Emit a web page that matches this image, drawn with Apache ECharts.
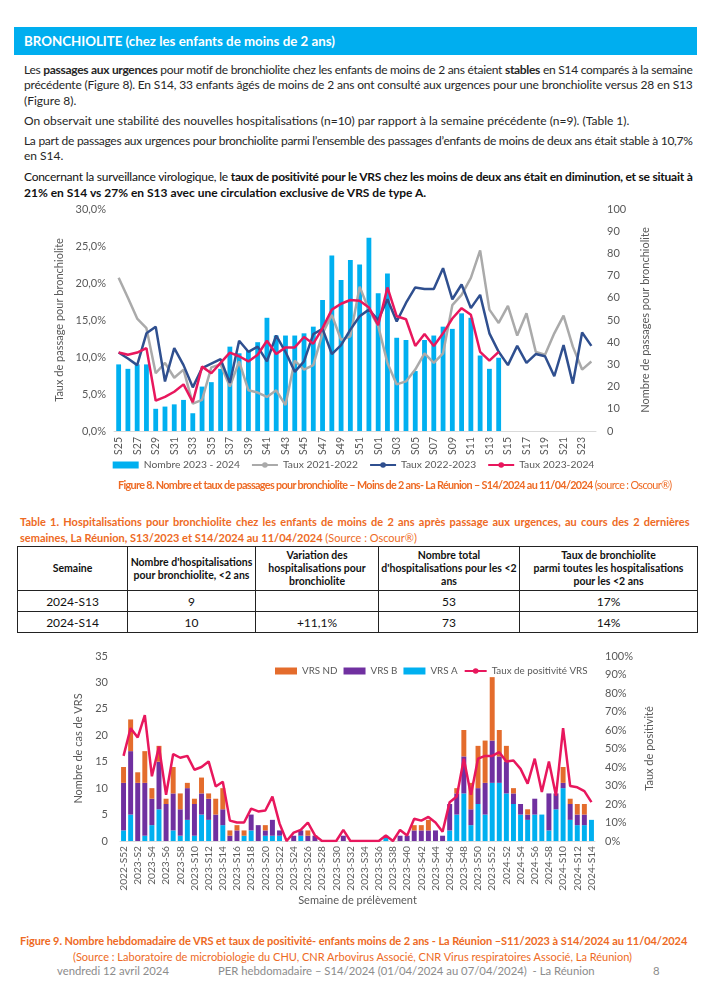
<!DOCTYPE html>
<html><head><meta charset="utf-8">
<script src="https://cdn.jsdelivr.net/npm/echarts@6/dist/echarts.min.js"></script>
<style>
html,body{margin:0;padding:0;background:#fff;}
body{width:707px;height:1000px;position:relative;overflow:hidden;font-family:"Lato",sans-serif;color:#262626;}
.ln{position:absolute;white-space:nowrap;font-size:12px;line-height:15px;}
.ln span{white-space:nowrap;}
b{font-weight:bold;}
.band{position:absolute;left:14px;top:27px;width:683px;height:28px;background:#00aeef;color:#fff;font-weight:bold;font-size:13.3px;line-height:28px;}
.band span{padding-left:10px;}
.orange{color:#ee6a24;}
table{position:absolute;left:17px;top:546px;width:680px;border-collapse:collapse;table-layout:fixed;font-family:"Lato",sans-serif;}
td{border:1px solid #222;text-align:center;vertical-align:middle;padding:0 2px;color:#111;}
tr.h td{height:43px;font-weight:bold;font-size:10.5px;line-height:13px;}
tr.r td{height:20px;font-size:12px;}
.foot{position:absolute;font-size:11.3px;color:#8c8c8c;white-space:nowrap;line-height:14px;}
#c8{position:absolute;left:0;top:200px;width:707px;height:280px;}
#c9{position:absolute;left:0;top:645px;width:707px;height:275px;}
</style></head>
<body>
<div class="band"><span>BRONCHIOLITE (chez les enfants de moins de 2 ans)</span></div>

<div class="ln j" style="left:24px;top:62px;width:669px"><span>Les <b>passages aux urgences</b> pour motif de bronchiolite chez les enfants de moins de 2 ans étaient <b>stables</b> en S14 comparés à la semaine</span></div>
<div class="ln j" style="left:24px;top:77px;width:669px"><span>précédente (Figure 8). En S14, 33 enfants âgés de moins de 2 ans ont consulté aux urgences pour une bronchiolite versus 28 en S13</span></div>
<div class="ln" style="left:24px;top:93px;width:669px"><span>(Figure 8).</span></div>
<div class="ln" style="left:24px;top:113px;width:669px"><span>On observait une stabilité des nouvelles hospitalisations (n=10) par rapport à la semaine précédente (n=9). (Table 1).</span></div>
<div class="ln j" style="left:24px;top:133px;width:669px"><span>La part de passages aux urgences pour bronchiolite parmi l’ensemble des passages d’enfants de moins de deux ans était stable à 10,7%</span></div>
<div class="ln" style="left:24px;top:148px;width:669px"><span>en S14.</span></div>
<div class="ln j" style="left:24px;top:169px;width:669px;color:#111"><span>Concernant la surveillance virologique, le <b>taux de positivité pour le VRS chez les moins de deux ans était en diminution, et se situait à</b></span></div>
<div class="ln" style="left:24px;top:185px;width:669px;color:#111"><span><b>21% en S14 vs 27% en S13 avec une circulation exclusive de VRS de type A.</b></span></div>

<div id="c8"></div>

<div class="ln orange" style="left:118px;top:477px;width:556px;font-size:10.8px"><span><b>Figure 8. Nombre et taux de passages pour bronchiolite – Moins de 2 ans- La Réunion – S14/2024 au 11/04/2024</b> (source : Oscour®)</span></div>

<div class="ln j orange" style="left:20px;top:514px;width:670px;font-size:11px"><span><b>Table 1. Hospitalisations pour bronchiolite chez les enfants de moins de 2 ans après passage aux urgences, au cours des 2 dernières</b></span></div>
<div class="ln orange" style="left:20px;top:530px;width:670px;font-size:11px"><span><b>semaines, La Réunion, S13/2023 et S14/2024 au 11/04/2024</b> (Source : Oscour®)</span></div>

<table>
<colgroup><col style="width:110px"><col style="width:128px"><col style="width:123px"><col style="width:141px"><col style="width:178px"></colgroup>
<tr class="h"><td>Semaine</td><td>Nombre d'hospitalisations pour bronchiolite, &lt;2 ans</td><td>Variation des hospitalisations pour bronchiolite</td><td>Nombre total d'hospitalisations pour les &lt;2 ans</td><td>Taux de bronchiolite<br>parmi toutes les hospitalisations<br>pour les &lt;2 ans</td></tr>
<tr class="r"><td>2024-S13</td><td>9</td><td></td><td>53</td><td>17%</td></tr>
<tr class="r"><td>2024-S14</td><td>10</td><td>+11,1%</td><td>73</td><td>14%</td></tr>
</table>

<div id="c9"></div>

<div class="ln orange" style="left:20px;top:933px;width:670px;font-size:11px"><span><b>Figure 9. Nombre hebdomadaire de VRS et taux de positivité- enfants moins de 2 ans - La Réunion –S11/2023 à S14/2024 au 11/04/2024</b></span></div>
<div class="ln orange" style="left:73px;top:949px;width:560px;font-size:11px"><span>(Source : Laboratoire de microbiologie du CHU, CNR Arbovirus Associé, CNR Virus respiratoires Associé, La Réunion)</span></div>

<div class="foot" style="left:57px;top:964px">vendredi 12 avril 2024</div>
<div class="foot" style="left:218px;top:964px">PER hebdomadaire – S14/2024 (01/04/2024 au 07/04/2024)&nbsp; - La Réunion</div>
<div class="foot" style="left:653px;top:964px">8</div>

<script>
// ---------- Figure 8 data ----------
const weeks8 = ['S25','S26','S27','S28','S29','S30','S31','S32','S33','S34','S35','S36','S37','S38','S39','S40','S41','S42','S43','S44','S45','S46','S47','S48','S49','S50','S51','S52','S01','S02','S03','S04','S05','S06','S07','S08','S09','S10','S11','S12','S13','S14','S15','S16','S17','S18','S19','S20','S21','S22','S23','S24'];
const nombre2324 = [30,28,30,30,10,11,12,14,8,20,22,28,38,35,36,40,51,43,43,43,44,47,59,79,68,77,75,87,62,71,42,41,27,41,43,47,46,53,51,34,28,33,null,null,null,null,null,null,null,null,null,null];
const taux2122 = [20.7,18.0,15.2,13.9,7.8,9.2,7.2,8.3,3.7,4.2,8.6,9.0,6.0,9.4,5.5,5.2,4.6,5.5,3.5,9.5,8.3,8.9,13.2,15.7,12.3,12.8,19.5,16.4,14.2,9.2,6.3,6.7,8.3,10.5,9.2,10.5,17.0,18.4,20.7,24.4,16.4,14.6,16.9,12.9,15.9,10.7,10.3,13.2,15.6,11.4,8.3,9.4];
const taux2223 = [10.6,9.8,8.9,13.2,14.1,6.7,11.2,8.9,5.9,8.5,9.1,9.7,6.5,12.2,10.7,11.4,9.4,12.9,10.7,8.0,9.4,13.1,13.8,10.4,11.6,13.7,15.5,16.4,15.0,17.8,14.8,17.3,19.4,19.2,19.2,22.0,17.8,19.8,16.6,18.4,13.2,10.7,8.9,11.5,9.2,10.4,10.1,7.4,11.6,6.4,13.3,11.5];
const taux2324 = [10.6,10.3,10.6,11.2,4.1,4.6,5.3,6.3,3.9,8.7,7.8,9.2,10.6,10.1,9.4,10.3,12.2,10.4,11.3,11.3,12.7,11.8,13.9,16.4,17.2,17.7,17.6,16.7,14.3,19.4,15.5,15.1,11.5,13.1,11.5,13.2,15.2,16.6,15.7,10.7,9.5,10.7,null,null,null,null,null,null,null,null,null,null];

// ---------- Figure 9 data ----------
const weeks9 = ['2022-S52','2023-S1','2023-S2','2023-S3','2023-S4','2023-S5','2023-S6','2023-S7','2023-S8','2023-S9','2023-S10','2023-S11','2023-S12','2023-S13','2023-S14','2023-S15','2023-S16','2023-S17','2023-S18','2023-S19','2023-S20','2023-S21','2023-S22','2023-S23','2023-S24','2023-S25','2023-S26','2023-S27','2023-S28','2023-S29','2023-S30','2023-S31','2023-S32','2023-S33','2023-S34','2023-S35','2023-S36','2023-S37','2023-S38','2023-S39','2023-S40','2023-S41','2023-S42','2023-S43','2023-S44','2023-S45','2023-S46','2023-S47','2023-S48','2023-S49','2023-S50','2023-S51','2023-S52','2024-S1','2024-S2','2024-S3','2024-S4','2024-S5','2024-S6','2024-S7','2024-S8','2024-S9','2024-S10','2024-S11','2024-S12','2024-S13','2024-S14'];
const vrsA  = [2,5,0,1,3,6,0,2,1,4,1,5,4,0,3,0,0,1,2,0,1,1,1,0,0,1,0,0,0,0,0,0,0,0,0,0,0,1,0,0,0,0,0,0,0,0,2,5,9,3,7,5,11,11,9,7,5,4,5,5,2,6,10,4,3,3,4];
const vrsB  = [9,12,11,10,5,9,7,7,5,6,6,4,4,5,3,1,2,0,3,3,1,3,1,0,1,1,1,1,0,0,0,1,0,0,0,0,0,0,0,1,1,2,2,2,2,1,5,4,7,3,3,6,8,5,6,2,2,1,3,0,7,3,1,3,2,2,0];
const vrsND = [3,6,2,6,2,3,1,5,3,1,1,3,1,3,4,1,1,1,0,0,1,0,0,0,0,0,1,0,0,0,0,0,0,0,0,0,0,0,0,0,0,1,1,2,0,0,0,1,5,5,8,8,12,5,3,1,0,1,0,0,0,0,3,1,2,2,0];
const positivite = [46,61,56,68,35,51,25,47,45,46,38.5,40,43,29.5,32,11,10,10,17.5,16,16.5,24,9.5,0,4.5,6,10,3,0,0,0,6,0,0,0,0,0,3,0,6,3,12,11,13,10,5,21,24,44.5,25,44.5,46,46,48,43,43.5,39,31,44.5,26.5,43,24.5,61,29.7,29,27,21];

const FONT = 'Lato, sans-serif';
const AX = '#595959';

// ---------- text line fitting / justification ----------
document.querySelectorAll('.ln').forEach(el => {
  const span = el.firstElementChild;
  const w = el.clientWidth;
  let nat = span.getBoundingClientRect().width;
  if (nat > w) {
    const n = span.textContent.length;
    el.style.letterSpacing = ((w - nat) / n - 0.02) + 'px';
    nat = span.getBoundingClientRect().width;
  }
  if (el.classList.contains('j')) {
    const spaces = (span.textContent.match(/ /g) || []).length;
    if (spaces > 0 && nat < w) el.style.wordSpacing = ((w - nat - 0.5) / spaces) + 'px';
  }
});

// ---------- Figure 8 ----------
const c8 = echarts.init(document.getElementById('c8'), null, {renderer: 'canvas'});
c8.setOption({
  animation: false,
  textStyle: {fontFamily: FONT},
  grid: {left: 114, right: 111, top: 9, bottom: 49, containLabel: false, outerBoundsMode: 'none'},
  legend: {
    bottom: 5, left: 'center', itemGap: 11, itemWidth: 26, itemHeight: 7,
    textStyle: {fontSize: 10.3, color: AX, fontFamily: FONT},
    data: [{name: 'Nombre 2023 - 2024', icon: 'rect'}, 'Taux 2021-2022', 'Taux 2022-2023', 'Taux 2023-2024']
  },
  xAxis: {
    type: 'category', data: weeks8,
    axisLine: {lineStyle: {color: '#d9d9d9'}}, axisTick: {show: false},
    axisLabel: {rotate: 90, interval: 1, fontSize: 10.5, color: AX, margin: 6, fontFamily: FONT}
  },
  yAxis: [
    {type: 'value', min: 0, max: 30, interval: 5, splitLine: {show: false},
     axisLine: {show: false}, axisTick: {show: false},
     axisLabel: {formatter: v => v.toFixed(1).replace('.', ',') + '%', fontSize: 11, color: AX, margin: 8, fontFamily: FONT},
     name: 'Taux de passage pour bronchiolite', nameLocation: 'middle', nameGap: 43, nameRotate: 90,
     nameTextStyle: {fontSize: 11, color: AX, fontFamily: FONT}},
    {type: 'value', min: 0, max: 100, interval: 10, splitLine: {show: false},
     axisLine: {show: false}, axisTick: {show: false},
     axisLabel: {fontSize: 11, color: AX, margin: 11, fontFamily: FONT},
     name: 'Nombre de passages pour bronchiolite', nameLocation: 'middle', nameGap: 44, nameRotate: 90,
     nameTextStyle: {fontSize: 11, color: AX, fontFamily: FONT}}
  ],
  series: [
    {name: 'Nombre 2023 - 2024', type: 'bar', yAxisIndex: 1, data: nombre2324, barWidth: '52%', itemStyle: {color: '#00b0f0'}},
    {name: 'Taux 2021-2022', type: 'line', yAxisIndex: 0, data: taux2122, symbol: 'none', lineStyle: {width: 2.5, color: '#aaaaaa'}, itemStyle: {color: '#aaaaaa'}},
    {name: 'Taux 2022-2023', type: 'line', yAxisIndex: 0, data: taux2223, symbol: 'none', lineStyle: {width: 2.5, color: '#2f4f8f'}, itemStyle: {color: '#2f4f8f'}},
    {name: 'Taux 2023-2024', type: 'line', yAxisIndex: 0, data: taux2324, symbol: 'none', lineStyle: {width: 2.5, color: '#e8175d'}, itemStyle: {color: '#e8175d'}}
  ]
});

// ---------- Figure 9 ----------
const c9 = echarts.init(document.getElementById('c9'), null, {renderer: 'canvas'});
c9.setOption({
  animation: false,
  textStyle: {fontFamily: FONT},
  grid: {left: 120, right: 112, top: 11, bottom: 79, containLabel: false, outerBoundsMode: 'none'},
  legend: {
    top: 16, left: 270, itemGap: 6, itemWidth: 22, itemHeight: 7,
    textStyle: {fontSize: 9.8, color: AX, fontFamily: FONT},
    data: [{name: 'VRS ND', icon: 'rect'}, {name: 'VRS B', icon: 'rect'}, {name: 'VRS A', icon: 'rect'}, 'Taux de positivité VRS']
  },
  xAxis: {
    type: 'category', data: weeks9,
    axisLine: {lineStyle: {color: '#d9d9d9'}}, axisTick: {show: false},
    axisLabel: {rotate: 90, interval: 1, fontSize: 10.2, color: AX, margin: 5, fontFamily: FONT},
    name: 'Semaine de prélèvement', nameLocation: 'middle', nameGap: 54, nameMoveOverlap: false,
    nameTextStyle: {fontSize: 11, color: AX, fontFamily: FONT}
  },
  yAxis: [
    {type: 'value', min: 0, max: 35, interval: 5, splitLine: {show: false},
     axisLine: {show: false}, axisTick: {show: false},
     axisLabel: {fontSize: 11, color: AX, margin: 12, fontFamily: FONT},
     name: 'Nombre de cas de VRS', nameLocation: 'middle', nameGap: 27, nameRotate: 90,
     nameTextStyle: {fontSize: 11, color: AX, fontFamily: FONT}},
    {type: 'value', min: 0, max: 100, interval: 10, splitLine: {show: false},
     axisLine: {show: false}, axisTick: {show: false},
     axisLabel: {formatter: '{value}%', fontSize: 11, color: AX, margin: 10, fontFamily: FONT},
     name: 'Taux de positivité', nameLocation: 'middle', nameGap: 37, nameRotate: 90,
     nameTextStyle: {fontSize: 11, color: AX, fontFamily: FONT}}
  ],
  series: [
    {name: 'VRS A', type: 'bar', stack: 'v', data: vrsA, barWidth: '70%', itemStyle: {color: '#00b0f0'}},
    {name: 'VRS B', type: 'bar', stack: 'v', data: vrsB, itemStyle: {color: '#7030a0'}},
    {name: 'VRS ND', type: 'bar', stack: 'v', data: vrsND, itemStyle: {color: '#e46c2c'}},
    {name: 'Taux de positivité VRS', type: 'line', yAxisIndex: 1, data: positivite, symbol: 'none', lineStyle: {width: 2.5, color: '#e8175d'}, itemStyle: {color: '#e8175d'}}
  ]
});
</script>
</body></html>
